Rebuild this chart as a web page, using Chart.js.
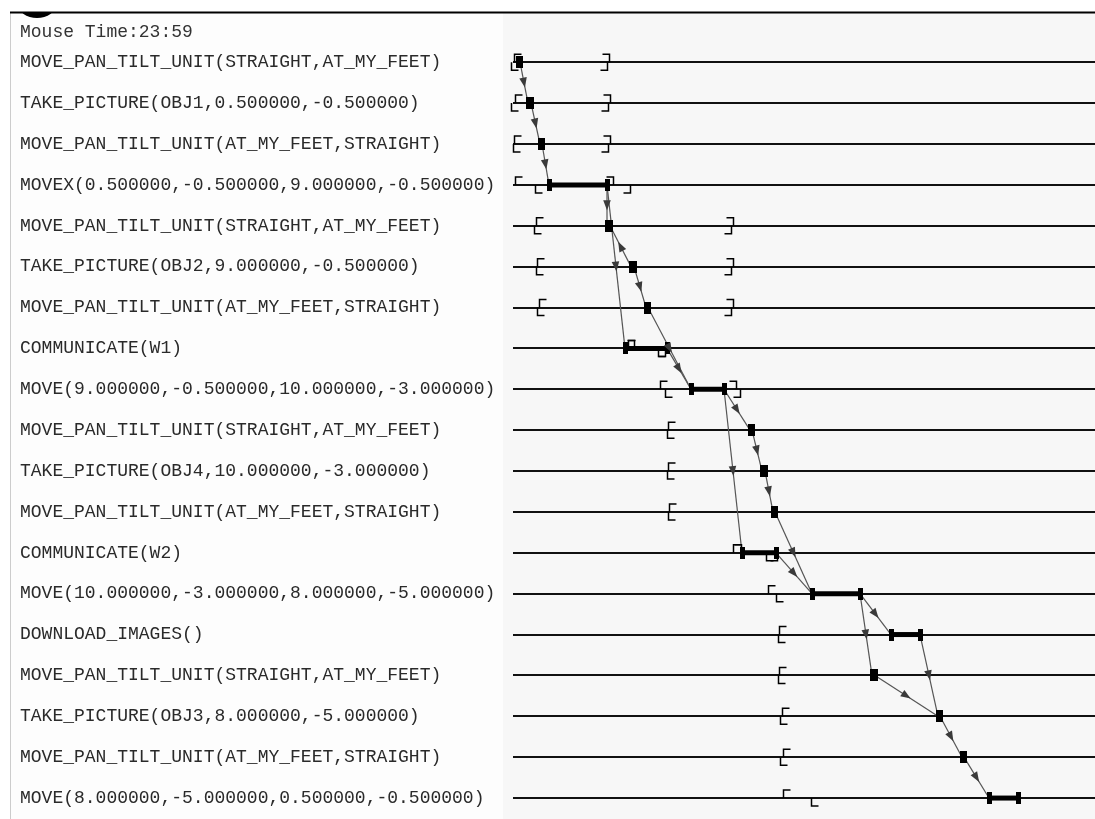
<!DOCTYPE html>
<html><head><meta charset="utf-8">
<script src="https://cdn.jsdelivr.net/npm/chart.js@4/dist/chart.umd.min.js"></script>
<style>html,body{margin:0;padding:0;background:#fff;}#wrap{position:relative;width:1095px;height:819px;}</style>
</head><body><div id="wrap"><canvas id="c"></canvas></div>
<script>
const titleText = 'Mouse Time:23:59';
const actions = [
  'MOVE_PAN_TILT_UNIT(STRAIGHT,AT_MY_FEET)',
  'TAKE_PICTURE(OBJ1,0.500000,-0.500000)',
  'MOVE_PAN_TILT_UNIT(AT_MY_FEET,STRAIGHT)',
  'MOVEX(0.500000,-0.500000,9.000000,-0.500000)',
  'MOVE_PAN_TILT_UNIT(STRAIGHT,AT_MY_FEET)',
  'TAKE_PICTURE(OBJ2,9.000000,-0.500000)',
  'MOVE_PAN_TILT_UNIT(AT_MY_FEET,STRAIGHT)',
  'COMMUNICATE(W1)',
  'MOVE(9.000000,-0.500000,10.000000,-3.000000)',
  'MOVE_PAN_TILT_UNIT(STRAIGHT,AT_MY_FEET)',
  'TAKE_PICTURE(OBJ4,10.000000,-3.000000)',
  'MOVE_PAN_TILT_UNIT(AT_MY_FEET,STRAIGHT)',
  'COMMUNICATE(W2)',
  'MOVE(10.000000,-3.000000,8.000000,-5.000000)',
  'DOWNLOAD_IMAGES()',
  'MOVE_PAN_TILT_UNIT(STRAIGHT,AT_MY_FEET)',
  'TAKE_PICTURE(OBJ3,8.000000,-5.000000)',
  'MOVE_PAN_TILT_UNIT(AT_MY_FEET,STRAIGHT)',
  'MOVE(8.000000,-5.000000,0.500000,-0.500000)'
];
// execution start / end times
const execStart = [5, 15, 27, 36, 94, 118, 133, 112, 178, 237, 249, 260, 229, 299, 378, 359, 425, 449, 476];
const execEnd   = [7, 18, 29, 94, 97, 121, 135, 154, 211, 239, 252, 262, 263, 347, 407, 362, 427, 451, 505];
// time-window brackets (upper pair and lower pair); null = not shown
const upperOpen  = [1, 2, 1, 2, 23, 24, 26, 115, 147, 155, 155, 156, 220, 255, 266, 266, 269, 270, 270];
const upperClose = [96, 97, 97, 100, 220, 220, 220, 121, 223, null, null, null, 228, null, null, null, null, null, null];
const lowerOpen  = [-2, -2, 0, 22, 21, 23, 24, 145, 152, 154, 154, 155, 253, 263, 265, 265, 267, 267, 298];
const lowerClose = [94, 95, 95, 117, 218, 218, 218, 152, 227, null, null, null, 264, null, null, null, null, null, null];
// dependency arrows: from row (point type) -> to row (point type); 'e' = end, 's' = start
const depFrom   = [0, 1, 2, 3, 3, 5, 5, 6, 7, 8, 8, 9, 10, 11, 12, 13, 13, 14, 15, 16, 17];
const depFromPt = ['e','e','e','e','e','s','e','e','e','e','e','e','e','e','e','e','e','e','e','e','e'];
const depTo     = [1, 2, 3, 4, 7, 4, 6, 8, 8, 9, 12, 10, 11, 13, 13, 14, 15, 16, 16, 17, 18];
const depToPt   = ['s','s','s','s','s','e','s','s','s','s','s','s','s','s','s','s','s','s','s','s','s'];

const FONT = 'Liberation Mono';
function markImg(w, h) {
  const c = document.createElement('canvas'); c.width = w; c.height = h;
  const g = c.getContext('2d'); g.fillStyle = '#000'; g.fillRect(0, 0, w, h); return c;
}
const mark = markImg(5, 12);
const ptTime = (row, p) => p === 'e' ? execEnd[row] : execStart[row];

const datasets = [];
actions.forEach((a, i) => {
  datasets.push({
    data: [{x: execStart[i], y: i}, {x: execEnd[i], y: i}],
    borderColor: '#000', borderWidth: 5, pointStyle: mark, pointRadius: 6,
    order: 1, clip: false
  });
});
depFrom.forEach((f, k) => {
  datasets.push({
    data: [{x: ptTime(f, depFromPt[k]), y: f}, {x: ptTime(depTo[k], depToPt[k]), y: depTo[k]}],
    borderColor: '#555', borderWidth: 1.2, pointRadius: 0, order: 2, clip: false
  });
});

const planPlugin = {
  id: 'plan',
  beforeDraw(chart) {
    const {ctx, chartArea: a, width, height} = chart;
    ctx.save();
    ctx.fillStyle = '#ffffff'; ctx.fillRect(0, 0, width, height);
    ctx.fillStyle = '#fdfdfd'; ctx.fillRect(10, 13, a.left - 20, height - 13);
    ctx.fillStyle = '#f7f7f7'; ctx.fillRect(a.left - 10, 13, width - a.left + 10, height - 13);
    ctx.strokeStyle = '#cccccc'; ctx.lineWidth = 1;
    ctx.beginPath(); ctx.moveTo(10.5, 13); ctx.lineTo(10.5, height); ctx.stroke();
    ctx.save();
    ctx.beginPath(); ctx.rect(0, 12, 120, 10); ctx.clip();
    ctx.fillStyle = '#000';
    ctx.beginPath(); ctx.ellipse(37, 4, 19, 14, 0, 0, Math.PI * 2); ctx.fill();
    ctx.restore();
    ctx.fillStyle = '#000'; ctx.fillRect(10, 11.5, width - 10, 2);
    ctx.restore();
  },
  afterDatasetsDraw(chart) {
    const {ctx, scales: {x, y}} = chart;
    ctx.save();
    ctx.strokeStyle = '#000'; ctx.lineWidth = 1.5; ctx.lineCap = 'butt';
    const H = 8, T = 7;
    const br = (t, row, up, open) => {
      if (t === null) return;
      const px = Math.round(x.getPixelForValue(t)) + 0.5, py = y.getPixelForValue(row);
      const ey = up ? py - H : py + H;
      ctx.beginPath(); ctx.moveTo(px, py); ctx.lineTo(px, ey);
      ctx.lineTo(open ? px + T : px - T, ey); ctx.stroke();
    };
    actions.forEach((a, i) => {
      br(upperOpen[i], i, true, true);
      br(upperClose[i], i, true, false);
      br(lowerOpen[i], i, false, true);
      br(lowerClose[i], i, false, false);
    });
    ctx.fillStyle = '#3a3a3a';
    depFrom.forEach((f, k) => {
      const x1 = x.getPixelForValue(ptTime(f, depFromPt[k])), y1 = y.getPixelForValue(f);
      const x2 = x.getPixelForValue(ptTime(depTo[k], depToPt[k])), y2 = y.getPixelForValue(depTo[k]);
      const mx = (x1 + x2) / 2, my = (y1 + y2) / 2;
      const len = Math.hypot(x2 - x1, y2 - y1), ux = (x2 - x1) / len, uy = (y2 - y1) / len;
      const L = 5, W = 3.8;
      ctx.beginPath();
      ctx.moveTo(mx + ux * L, my + uy * L);
      ctx.lineTo(mx - ux * L - uy * W, my - uy * L + ux * W);
      ctx.lineTo(mx - ux * L + uy * W, my - uy * L - ux * W);
      ctx.closePath(); ctx.fill();
    });
    ctx.restore();
  }
};

new Chart(document.getElementById('c'), {
  type: 'line',
  data: {datasets},
  options: {
    responsive: true, maintainAspectRatio: false, animation: false, devicePixelRatio: 1,
    layout: {autoPadding: false, padding: {top: 14, left: 20, right: 0, bottom: 0.5}},
    plugins: {
      legend: {display: false}, tooltip: {enabled: false},
      title: {display: true, text: titleText, align: 'start', color: '#333',
        font: {family: FONT, size: 18, weight: 'normal', lineHeight: 1.1}, padding: {top: 8, bottom: 0}}
    },
    scales: {
      x: {type: 'linear', min: 0, max: 582, display: false},
      y: {
        type: 'linear', min: -0.5, max: 18.5, reverse: true,
        afterBuildTicks: s => { s.ticks = actions.map((_, i) => ({value: i})); },
        afterFit: s => { s.width = 493; s.paddingTop = 0; s.paddingBottom = 0; },
        ticks: {autoSkip: false, crossAlign: 'far', padding: 0, color: '#2a2a2a',
          font: {family: FONT, size: 18}, callback: (v, i) => actions[i]},
        grid: {color: '#111', lineWidth: 2, drawTicks: false},
        border: {display: false}
      }
    }
  },
  plugins: [planPlugin]
});
</script></body></html>
